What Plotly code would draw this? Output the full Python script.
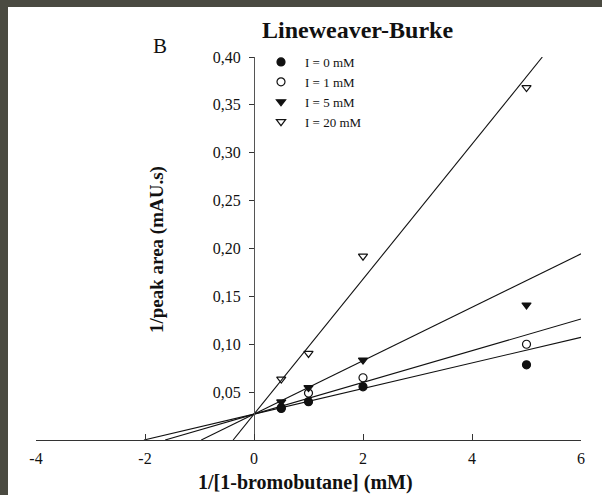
import plotly.graph_objects as go

# ---- data ----
series_names = ["I = 0 mM", "I = 1 mM", "I = 5 mM", "I = 20 mM"]
x_values = [0.5, 1, 2, 5]
y_I0 = [0.033, 0.040, 0.0555, 0.0785]
y_I1 = [0.0338, 0.049, 0.065, 0.100]
y_I5 = [0.0398, 0.0548, 0.0835, 0.141]
y_I20 = [0.0636, 0.0904, 0.192, 0.368]
fit_intercept = 0.027
fit_slopes = [0.01337, 0.01656, 0.0279, 0.0705]
symbols = ["circle", "circle-open", "triangle-down", "triangle-down-open"]

x_tickvals = [-4, -2, 0, 2, 4, 6]
x_ticktext = ["-4", "-2", "0", "2", "4", "6"]
y_tickvals = [0.05, 0.10, 0.15, 0.20, 0.25, 0.30, 0.35, 0.40]
y_ticktext = ["0,05", "0,10", "0,15", "0,20", "0,25", "0,30", "0,35", "0,40"]

X_RANGE = [-4, 6]
Y_RANGE = [0, 0.40]

FONT = "Liberation Serif, Times New Roman, serif"
FRAME = "#4a4a41"

fig = go.Figure()

# fitted lines, from the x-intercept to the edge of the frame
for slope in fit_slopes:
    x0 = -fit_intercept / slope
    x1 = min(X_RANGE[1], (Y_RANGE[1] - fit_intercept) / slope)
    fig.add_trace(go.Scatter(
        x=[x0, x1], y=[0, fit_intercept + slope * x1],
        mode="lines", line=dict(color="#111111", width=1.1),
        showlegend=False, hoverinfo="skip"))

all_y = [y_I0, y_I1, y_I5, y_I20]
for name, ys, sym in zip(series_names, all_y, symbols):
    fig.add_trace(go.Scatter(
        x=x_values, y=ys, mode="markers", name=name,
        marker=dict(symbol=sym, size=8, color="#111111",
                    line=dict(color="#111111", width=1.2)),
        cliponaxis=False))

# figure fills the window (page margin removed below)
W, H = 602, 495
# plot area in window pixels
L, R, T, B = 36, 581, 57, 440
pw, ph = R - L, B - T

def px(x):
    return (x - L) / pw

def py(y):
    return (B - y) / ph

zero_pos = (0 - X_RANGE[0]) / (X_RANGE[1] - X_RANGE[0])

def label(text, x, y, size, angle=0):
    return dict(text=text, x=px(x), y=py(y), xref="paper", yref="paper",
                xanchor="center", yanchor="middle", showarrow=False,
                textangle=angle, font=dict(size=size, family=FONT))

fig.update_layout(
    width=W, height=H,
    margin=dict(l=L, r=W - R, t=T, b=H - B),
    paper_bgcolor=FRAME,
    plot_bgcolor="white",
    font=dict(family=FONT, color="#111111", size=16),
    xaxis=dict(range=X_RANGE, tickvals=x_tickvals, ticktext=x_ticktext,
               ticks="inside", ticklen=6, tickcolor="#333333",
               showline=True, linecolor="#333333", linewidth=1,
               showgrid=False, zeroline=False, ticklabelstandoff=4,
               tickfont=dict(size=16, family=FONT)),
    yaxis=dict(range=Y_RANGE, tickvals=y_tickvals, ticktext=y_ticktext,
               anchor="free", position=zero_pos,
               ticks="outside", ticklen=5, tickcolor="#333333",
               showline=True, linecolor="#555555", linewidth=1,
               showgrid=False, zeroline=False, ticklabelstandoff=5,
               tickfont=dict(size=16, family=FONT)),
    legend=dict(x=px(257), y=py(47), xanchor="left", yanchor="top",
                bgcolor="rgba(0,0,0,0)", font=dict(size=13, family=FONT),
                itemwidth=38, tracegroupgap=0),
    shapes=[dict(type="rect", xref="paper", yref="paper",
                 x0=px(8), x1=px(W + 10), y0=py(H + 10), y1=py(7),
                 fillcolor="white", line=dict(width=0), layer="below")],
    annotations=[
        label("<b>Lineweaver-Burke</b>", 357, 30, 24),
        label("B", 160, 46, 21),
        label("<b>1/[1-bromobutane] (mM)</b>", 305, 482, 20),
        label("<b>1/peak area (mAU.s)</b>", 157, 250, 19, -90),
    ],
)

fig.write_html(
    "out.html",
    config={"displayModeBar": False},
    post_script=("document.body.style.margin='0';"
                 "document.body.style.background='" + FRAME + "';"
                 "document.documentElement.style.overflow='hidden';"),
)
